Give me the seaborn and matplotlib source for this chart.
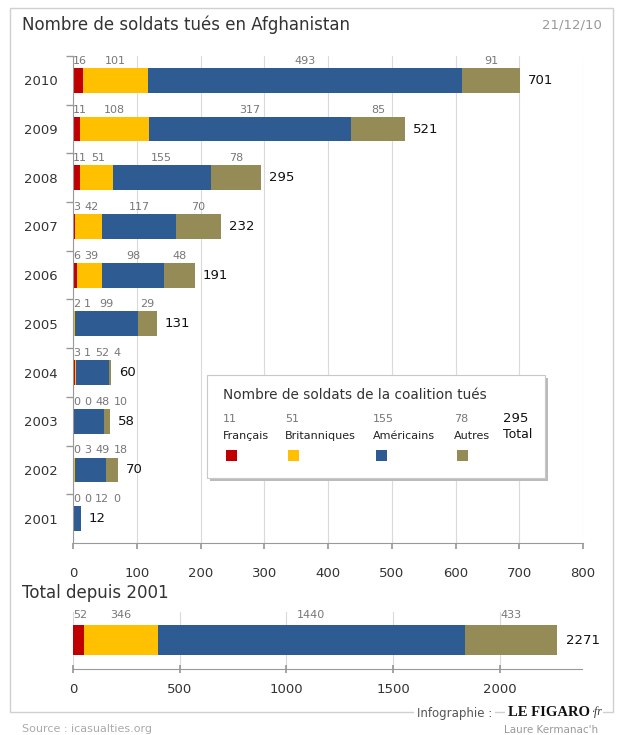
import numpy as np
import pandas as pd
import seaborn as sns
import matplotlib.pyplot as plt
from matplotlib.patches import Rectangle

sns.set_theme(style="white")
plt.rcParams['font.family'] = ['DejaVu Sans']

# data
years = ['2010', '2009', '2008', '2007', '2006', '2005', '2004', '2003', '2002', '2001']
francais = [16, 11, 11, 3, 6, 2, 3, 0, 0, 0]
britanniques = [101, 108, 51, 42, 39, 1, 1, 0, 3, 0]
americains = [493, 317, 155, 117, 98, 99, 52, 48, 49, 12]
autres = [91, 85, 78, 70, 48, 29, 4, 10, 18, 0]

total_since = [52, 346, 1440, 433]

groups = ['Français', 'Britanniques', 'Américains', 'Autres']
colors = ['#c00000', '#ffc000', '#2f5b93', '#958b56']

W, H = 617, 735
fig = plt.figure(figsize=(W / 100, H / 100), dpi=100)


def fx(px):
    return px / W


def fy(py):
    return 1 - py / H


# ---- main chart, stacked bars per year
d = pd.DataFrame({'year': years, 'Français': francais, 'Britanniques': britanniques,
                  'Américains': americains, 'Autres': autres})
cum = d[groups].cumsum(axis=1)
cum['year'] = d['year']
d['total'] = d[groups].sum(axis=1)

ax = fig.add_axes([fx(73), fy(543), (583 - 73) / W, (543 - 56) / H])
for g, c in reversed(list(zip(groups, colors))):
    sns.barplot(data=cum, x=g, y='year', order=years, orient='h', color=c,
                saturation=1, width=0.51, linewidth=0, ax=ax)

ax.set_xlim(0, 800)
ax.set_ylim(9.5, -0.5)
ax.set_xticks(range(0, 801, 100))
ax.set_xlabel('')
ax.set_ylabel('')
ax.set_axisbelow(True)
ax.grid(axis='x', color='#dadada', lw=0.8)
ax.grid(axis='y', visible=False)
for s in ['top', 'right']:
    ax.spines[s].set_visible(False)
for s in ['left', 'bottom']:
    ax.spines[s].set_color('#999999')
    ax.spines[s].set_linewidth(0.8)
ax.set_yticks(np.arange(-0.5, 9.5, 1), minor=True)
ax.tick_params(axis='y', which='major', length=0, pad=11, labelsize=9.5, labelcolor='#333333')
ax.tick_params(axis='y', which='minor', left=True, length=5, color='#999999', direction='out')
ax.tick_params(axis='x', bottom=True, length=4, color='#999999', direction='out', pad=13,
               labelsize=9.5, labelcolor='#333333')


def seg_labels(a, y, vals, ppu):
    start = 0
    prev_right = -1e9
    for v in vals:
        txt = str(v)
        w = len(txt) * 7.1 / ppu
        left = max(start + v / 2 - w / 2, 0, prev_right + 4 / ppu)
        a.text(left, y, txt, ha='left', va='center', fontsize=8, color='#777777', clip_on=False)
        prev_right = left + w
        start += v


ppu = 510 / 800
for i, row in d.iterrows():
    vals = [row[g] for g in groups]
    seg_labels(ax, i - 0.40, vals, ppu)
    ax.text(row['total'] + 8 / ppu, i, str(row['total']), ha='left', va='center',
            fontsize=9.5, color='#111111')

# ---- total since 2001
t = pd.DataFrame({'label': ['Total'], **{g: [v] for g, v in zip(groups, total_since)}})
tcum = t[groups].cumsum(axis=1)
tcum['label'] = t['label']

ax2 = fig.add_axes([fx(73), fy(669), (582 - 73) / W, (669 - 612) / H])
for g, c in reversed(list(zip(groups, colors))):
    sns.barplot(data=tcum, x=g, y='label', orient='h', color=c, saturation=1,
                width=0.6, linewidth=0, ax=ax2)
ax2.set_xlim(0, 2386)
ax2.set_ylim(0.58, -0.56)
ax2.set_xticks(range(0, 2001, 500))
ax2.set_yticks([])
ax2.set_xlabel('')
ax2.set_ylabel('')
ax2.set_axisbelow(True)
ax2.grid(axis='x', color='#dadada', lw=0.8)
for s in ['top', 'right', 'left']:
    ax2.spines[s].set_visible(False)
ax2.spines['bottom'].set_color('#999999')
ax2.spines['bottom'].set_linewidth(0.8)
ax2.tick_params(axis='x', bottom=True, length=6, color='#999999', direction='inout', pad=7,
                labelsize=9.5, labelcolor='#333333')
ppu2 = 509 / 2386
seg_labels(ax2, -0.5, total_since, ppu2)
ax2.text(sum(total_since) + 9 / ppu2, 0, str(sum(total_since)), ha='left', va='center',
         fontsize=9.5, color='#111111')

# ---- outer frame and titles
fig.add_artist(Rectangle((fx(10), fy(712)), (613 - 10) / W, (712 - 8) / H, fill=False,
                         edgecolor='#d0d0d0', lw=1, transform=fig.transFigure))
fig.text(fx(22), fy(25), 'Nombre de soldats tués en Afghanistan', fontsize=12, color='#333333',
         ha='left', va='center')
fig.text(fx(602), fy(25), '21/12/10', fontsize=9.5, color='#999999', ha='right', va='center')
fig.text(fx(22), fy(593), 'Total depuis 2001', fontsize=12, color='#333333', ha='left', va='center')

# ---- legend box (values for 2008)
leg_vals = [d.loc[2, g] for g in groups]
fig.add_artist(Rectangle((fx(210), fy(481)), (545 - 207) / W, (478 - 375) / H,
                         facecolor='#bbbbbb', edgecolor='none', transform=fig.transFigure))
fig.add_artist(Rectangle((fx(207), fy(478)), (545 - 207) / W, (478 - 375) / H,
                         facecolor='white', edgecolor='#c8c8c8', lw=0.8, transform=fig.transFigure))
fig.text(fx(223), fy(395), 'Nombre de soldats de la coalition tués', fontsize=9.8,
         color='#333333', ha='left', va='center')
col_x = [223, 285, 373, 454]
for x, g, v, c in zip(col_x, groups, leg_vals, colors):
    fig.text(fx(x), fy(419), str(v), fontsize=8, color='#777777', ha='left', va='center')
    fig.text(fx(x), fy(436), g, fontsize=8, color='#222222', ha='left', va='center')
    fig.add_artist(Rectangle((fx(x + 3), fy(461)), 11 / W, 11 / H, facecolor=c,
                             edgecolor='none', transform=fig.transFigure))
fig.text(fx(503), fy(418), str(d.loc[2, 'total']), fontsize=9.5, color='#111111', ha='left', va='center')
fig.text(fx(503), fy(435), 'Total', fontsize=9, color='#111111', ha='left', va='center')

# ---- footer
fig.text(fx(22), fy(729), 'Source : icasualties.org', fontsize=8, color='#aaaaaa', ha='left', va='center')
fig.text(fx(492), fy(713), 'Infographie :', fontsize=8.5, color='#555555', ha='right', va='center',
         family='Liberation Sans Narrow',
         bbox=dict(facecolor='white', edgecolor='none', pad=2))
fig.text(fx(590), fy(713), 'LE FIGARO', fontsize=10.5, color='#111111', ha='right', va='center',
         family='Liberation Serif', weight='bold',
         bbox=dict(facecolor='white', edgecolor='none', pad=2))
fig.text(fx(591), fy(712), '·fr', fontsize=8.5, color='#333333', ha='left', va='center',
         family='Liberation Serif', style='italic',
         bbox=dict(facecolor='white', edgecolor='none', pad=1))
fig.text(fx(598), fy(730), "Laure Kermanac'h", fontsize=7.5, color='#999999', ha='right', va='center')

fig.savefig('out.png', dpi=100, facecolor='white')
